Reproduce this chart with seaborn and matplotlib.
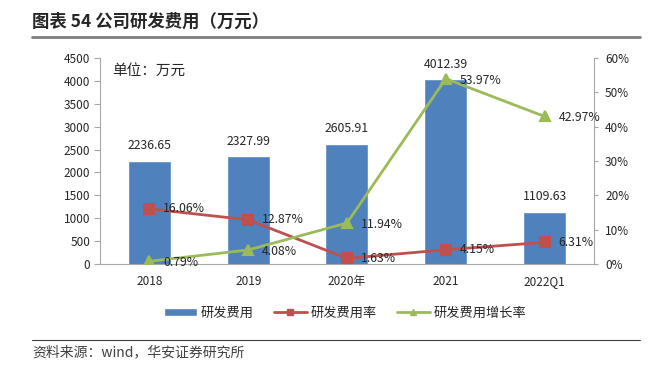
import numpy as np
import pandas as pd
import matplotlib
matplotlib.use('Agg')
import matplotlib.pyplot as plt
import seaborn as sns
from matplotlib.lines import Line2D
from matplotlib.patches import Patch

# 数据
years = ['2018', '2019', '2020年', '2021', '2022Q1']
rd_cost = [2236.65, 2327.99, 2605.91, 4012.39, 1109.63]        # 研发费用(万元)
rd_rate = [16.06, 12.87, 1.63, 4.15, 6.31]                     # 研发费用率(%)
rd_growth = [0.79, 4.08, 11.94, 53.97, 42.97]                  # 研发费用增长率(%)

sns.set_theme(style='white')
plt.rcParams['font.family'] = ['Noto Sans CJK SC', 'DejaVu Sans']
plt.rcParams['axes.unicode_minus'] = False

c_bar = '#4F81BD'
c_red = '#C0504D'
c_green = '#9BBB59'
c_axis = '#A6A6A6'

df = pd.DataFrame({'year': years, 'cost': rd_cost, 'rate': rd_rate, 'growth': rd_growth})

fig = plt.figure(figsize=(6.51, 3.69), dpi=100)
ax = fig.add_axes([0.1536, 0.2846, 0.7588, 0.5582])

sns.barplot(data=df, x='year', y='cost', color=c_bar, width=0.415, saturation=1,
            edgecolor='#6A93C8', linewidth=0.6, ax=ax)
ax.set_ylim(0, 4500)
ax.set_yticks(np.arange(0, 4501, 500))
ax.set_xlabel('')
ax.set_ylabel('')
for i, v in enumerate(rd_cost):
    ax.annotate(f'{v:.2f}', (i, v), xytext=(0, 7), textcoords='offset points',
                ha='center', va='bottom', fontsize=8.8)

ax2 = ax.twinx()
sns.pointplot(data=df, x='year', y='rate', color=c_red, markers='s', markersize=7,
              linewidth=2, ax=ax2)
sns.pointplot(data=df, x='year', y='growth', color=c_green, markers='^', markersize=7,
              linewidth=2, ax=ax2)
ax2.set_ylim(0, 60)
ax2.set_yticks(np.arange(0, 61, 10))
ax2.set_yticklabels([f'{t}%' for t in range(0, 61, 10)])
ax2.set_ylabel('')
ax2.set_xlim(-0.5, 4.5)
ax.set_xlim(-0.5, 4.5)

for i, v in enumerate(rd_rate):
    ax2.annotate(f'{v:.2f}%', (i, v), xytext=(10, 0), textcoords='offset points',
                 ha='left', va='center', fontsize=8.8)
for i, v in enumerate(rd_growth):
    ax2.annotate(f'{v:.2f}%', (i, v), xytext=(10, -1), textcoords='offset points',
                 ha='left', va='center', fontsize=8.8)

# 坐标轴样式
for a in (ax, ax2):
    for s in a.spines.values():
        s.set_visible(False)
ax.spines['left'].set_visible(True)
ax.spines['bottom'].set_visible(True)
ax2.spines['right'].set_visible(True)
for s in (ax.spines['left'], ax.spines['bottom'], ax2.spines['right']):
    s.set_color(c_axis)
    s.set_linewidth(0.8)

ax.set_xticks(range(len(years)))
ax.set_xticklabels(years)
ax.tick_params(axis='x', length=0, labelsize=8.5, pad=8)
ax.set_xticks(np.arange(-0.5, 4.6, 1), minor=True)
ax.tick_params(axis='x', which='minor', length=4, color=c_axis, width=0.8)
ax.tick_params(axis='y', length=4, color=c_axis, width=0.8, labelsize=8.5, pad=3, left=True)
ax2.tick_params(axis='y', length=3, color=c_axis, width=0.8, labelsize=8.5, pad=5, right=True)
ax2.tick_params(axis='x', length=0)
ax2.set_xlabel('')

ax.text(0.025, 0.97, '单位：万元', transform=ax.transAxes, fontsize=10.5, va='top', ha='left')

# 图例
handles = [Patch(facecolor=c_bar, label='研发费用'),
           Line2D([], [], color=c_red, marker='s', markersize=5, lw=2, label='研发费用率'),
           Line2D([], [], color=c_green, marker='^', markersize=5, lw=2, label='研发费用增长率')]
fig.legend(handles=handles, loc='center', bbox_to_anchor=(0.53, 0.152), ncol=3,
           frameon=False, fontsize=9.5, handlelength=2.5, columnspacing=1.5, handleheight=0.6,
           handletextpad=0.3)

# 标题与来源
fig.text(0.049, 0.94, '图表 54 公司研发费用（万元）', fontsize=12.5, fontweight='bold',
         va='center', ha='left')
fig.add_artist(Line2D([0.049, 0.983], [0.9, 0.9], color='#7F7F7F', lw=2))
fig.add_artist(Line2D([0.049, 0.983], [0.079, 0.079], color='#404040', lw=0.8))
fig.text(0.049, 0.045, '资料来源：wind，华安证券研究所', fontsize=10, color='#404040',
         va='center', ha='left')

fig.savefig('out.png', dpi=100)
